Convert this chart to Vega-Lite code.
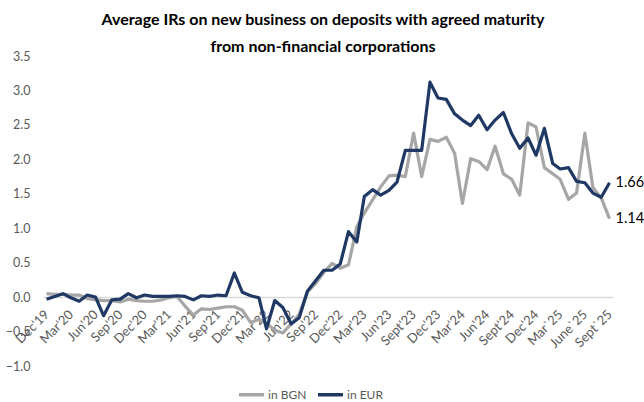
{
  "$schema": "https://vega.github.io/schema/vega-lite/v6.json",
  "autosize": "none",
  "width": 570,
  "height": 310,
  "padding": {"left": 43, "top": 56, "right": 31, "bottom": 36},
  "background": "white",
  "config": {"view": {"stroke": null}},
  "title": {
    "text": ["Average IRs on new business on deposits with agreed maturity", "from non-financial corporations"],
    "font": "Lato",
    "fontSize": 16,
    "fontWeight": "bold",
    "color": "#000000",
    "anchor": "middle",
    "frame": "group",
    "dx": -5,
    "lineHeight": 27,
    "offset": -5
  },
  "data": {
    "values": [
      {"date": "2019-12-01", "in BGN": 0.05, "in EUR": -0.03},
      {"date": "2020-01-01", "in BGN": 0.04, "in EUR": 0.01},
      {"date": "2020-02-01", "in BGN": 0.04, "in EUR": 0.05},
      {"date": "2020-03-01", "in BGN": 0.03, "in EUR": -0.01},
      {"date": "2020-04-01", "in BGN": 0.03, "in EUR": -0.06},
      {"date": "2020-05-01", "in BGN": -0.02, "in EUR": 0.03},
      {"date": "2020-06-01", "in BGN": -0.04, "in EUR": 0.0},
      {"date": "2020-07-01", "in BGN": -0.05, "in EUR": -0.27},
      {"date": "2020-08-01", "in BGN": -0.05, "in EUR": -0.04},
      {"date": "2020-09-01", "in BGN": -0.07, "in EUR": -0.03},
      {"date": "2020-10-01", "in BGN": -0.03, "in EUR": 0.05},
      {"date": "2020-11-01", "in BGN": -0.05, "in EUR": -0.01},
      {"date": "2020-12-01", "in BGN": -0.06, "in EUR": 0.03},
      {"date": "2021-01-01", "in BGN": -0.06, "in EUR": 0.01},
      {"date": "2021-02-01", "in BGN": -0.04, "in EUR": 0.01},
      {"date": "2021-03-01", "in BGN": -0.01, "in EUR": 0.01},
      {"date": "2021-04-01", "in BGN": 0.01, "in EUR": 0.02},
      {"date": "2021-05-01", "in BGN": -0.13, "in EUR": 0.01},
      {"date": "2021-06-01", "in BGN": -0.26, "in EUR": -0.04},
      {"date": "2021-07-01", "in BGN": -0.17, "in EUR": 0.02},
      {"date": "2021-08-01", "in BGN": -0.18, "in EUR": 0.01},
      {"date": "2021-09-01", "in BGN": -0.16, "in EUR": 0.03},
      {"date": "2021-10-01", "in BGN": -0.14, "in EUR": 0.02},
      {"date": "2021-11-01", "in BGN": -0.14, "in EUR": 0.35},
      {"date": "2021-12-01", "in BGN": -0.19, "in EUR": 0.07},
      {"date": "2022-01-01", "in BGN": -0.37, "in EUR": 0.02},
      {"date": "2022-02-01", "in BGN": -0.32, "in EUR": -0.01},
      {"date": "2022-03-01", "in BGN": -0.38, "in EUR": -0.46},
      {"date": "2022-04-01", "in BGN": -0.48, "in EUR": -0.05},
      {"date": "2022-05-01", "in BGN": -0.52, "in EUR": -0.15},
      {"date": "2022-06-01", "in BGN": -0.39, "in EUR": -0.39},
      {"date": "2022-07-01", "in BGN": -0.25, "in EUR": -0.30},
      {"date": "2022-08-01", "in BGN": 0.08, "in EUR": 0.09},
      {"date": "2022-09-01", "in BGN": 0.20, "in EUR": 0.24},
      {"date": "2022-10-01", "in BGN": 0.36, "in EUR": 0.39},
      {"date": "2022-11-01", "in BGN": 0.49, "in EUR": 0.39},
      {"date": "2022-12-01", "in BGN": 0.42, "in EUR": 0.48},
      {"date": "2023-01-01", "in BGN": 0.47, "in EUR": 0.95},
      {"date": "2023-02-01", "in BGN": 1.02, "in EUR": 0.80},
      {"date": "2023-03-01", "in BGN": 1.22, "in EUR": 1.46},
      {"date": "2023-04-01", "in BGN": 1.41, "in EUR": 1.56},
      {"date": "2023-05-01", "in BGN": 1.60, "in EUR": 1.48},
      {"date": "2023-06-01", "in BGN": 1.76, "in EUR": 1.55},
      {"date": "2023-07-01", "in BGN": 1.77, "in EUR": 1.67},
      {"date": "2023-08-01", "in BGN": 1.75, "in EUR": 2.13},
      {"date": "2023-09-01", "in BGN": 2.38, "in EUR": 2.13},
      {"date": "2023-10-01", "in BGN": 1.75, "in EUR": 2.13},
      {"date": "2023-11-01", "in BGN": 2.29, "in EUR": 3.12},
      {"date": "2023-12-01", "in BGN": 2.26, "in EUR": 2.89},
      {"date": "2024-01-01", "in BGN": 2.32, "in EUR": 2.87},
      {"date": "2024-02-01", "in BGN": 2.09, "in EUR": 2.66},
      {"date": "2024-03-01", "in BGN": 1.36, "in EUR": 2.57},
      {"date": "2024-04-01", "in BGN": 2.01, "in EUR": 2.49},
      {"date": "2024-05-01", "in BGN": 1.97, "in EUR": 2.64},
      {"date": "2024-06-01", "in BGN": 1.85, "in EUR": 2.43},
      {"date": "2024-07-01", "in BGN": 2.19, "in EUR": 2.57},
      {"date": "2024-08-01", "in BGN": 1.79, "in EUR": 2.68},
      {"date": "2024-09-01", "in BGN": 1.71, "in EUR": 2.37},
      {"date": "2024-10-01", "in BGN": 1.48, "in EUR": 2.16},
      {"date": "2024-11-01", "in BGN": 2.53, "in EUR": 2.31},
      {"date": "2024-12-01", "in BGN": 2.47, "in EUR": 2.06},
      {"date": "2025-01-01", "in BGN": 1.88, "in EUR": 2.45},
      {"date": "2025-02-01", "in BGN": 1.79, "in EUR": 1.94},
      {"date": "2025-03-01", "in BGN": 1.71, "in EUR": 1.86},
      {"date": "2025-04-01", "in BGN": 1.42, "in EUR": 1.88},
      {"date": "2025-05-01", "in BGN": 1.51, "in EUR": 1.68},
      {"date": "2025-06-01", "in BGN": 2.38, "in EUR": 1.66},
      {"date": "2025-07-01", "in BGN": 1.59, "in EUR": 1.51},
      {"date": "2025-08-01", "in BGN": 1.44, "in EUR": 1.45},
      {"date": "2025-09-01", "in BGN": 1.14, "in EUR": 1.66}
    ]
  },
  "transform": [
    {"fold": ["in BGN", "in EUR"], "as": ["series", "value"]}
  ],
  "encoding": {
    "x": {
      "field": "date",
      "type": "temporal",
      "scale": {
        "type": "utc",
        "nice": false,
        "domain": [
          {"year": 2019, "month": 11, "date": 18, "utc": true},
          {"year": 2025, "month": 9, "date": 14, "utc": true}
        ]
      },
      "axis": {
        "title": null,
        "offset": -68.9,
        "domainColor": "#d9d9d9",
        "domainWidth": 1.5,
        "ticks": false,
        "grid": false,
        "labelAngle": -45,
        "labelAlign": "right",
        "labelBaseline": "middle",
        "labelPadding": 15,
        "labelFont": "Lato",
        "labelFontSize": 13,
        "labelColor": "#595959",
        "labelOverlap": false,
        "labelBound": false,
        "labelFlush": false,
        "values": [
          {"year": 2019, "month": 12, "date": 1, "utc": true},
          {"year": 2020, "month": 3, "date": 1, "utc": true},
          {"year": 2020, "month": 6, "date": 1, "utc": true},
          {"year": 2020, "month": 9, "date": 1, "utc": true},
          {"year": 2020, "month": 12, "date": 1, "utc": true},
          {"year": 2021, "month": 3, "date": 1, "utc": true},
          {"year": 2021, "month": 6, "date": 1, "utc": true},
          {"year": 2021, "month": 9, "date": 1, "utc": true},
          {"year": 2021, "month": 12, "date": 1, "utc": true},
          {"year": 2022, "month": 3, "date": 1, "utc": true},
          {"year": 2022, "month": 6, "date": 1, "utc": true},
          {"year": 2022, "month": 9, "date": 1, "utc": true},
          {"year": 2022, "month": 12, "date": 1, "utc": true},
          {"year": 2023, "month": 3, "date": 1, "utc": true},
          {"year": 2023, "month": 6, "date": 1, "utc": true},
          {"year": 2023, "month": 9, "date": 1, "utc": true},
          {"year": 2023, "month": 12, "date": 1, "utc": true},
          {"year": 2024, "month": 3, "date": 1, "utc": true},
          {"year": 2024, "month": 6, "date": 1, "utc": true},
          {"year": 2024, "month": 9, "date": 1, "utc": true},
          {"year": 2024, "month": 12, "date": 1, "utc": true},
          {"year": 2025, "month": 3, "date": 1, "utc": true},
          {"year": 2025, "month": 6, "date": 1, "utc": true},
          {"year": 2025, "month": 9, "date": 1, "utc": true}
        ],
        "labelExpr": "(utcmonth(datum.value)==8 && utcyear(datum.value)>=2023 ? 'Sept' : (utcmonth(datum.value)==5 && utcyear(datum.value)==2025 ? 'June' : utcFormat(datum.value,'%b'))) + (utcyear(datum.value)==2025 && utcmonth(datum.value)>=2 ? '`' : \"'\") + utcFormat(datum.value,'%y')"
      }
    },
    "y": {
      "field": "value",
      "type": "quantitative",
      "scale": {"domain": [-1, 3.5], "nice": false, "zero": false},
      "axis": {
        "title": null,
        "domain": false,
        "ticks": false,
        "grid": false,
        "values": [-1, -0.5, 0, 0.5, 1, 1.5, 2, 2.5, 3, 3.5],
        "format": ".1f",
        "labelFont": "Lato",
        "labelFontSize": 12.5,
        "labelColor": "#595959",
        "labelPadding": 13
      }
    }
  },
  "layer": [
    {
      "mark": {"type": "line", "strokeWidth": 3.2, "strokeJoin": "round"},
      "encoding": {
        "color": {
          "field": "series",
          "type": "nominal",
          "scale": {"domain": ["in BGN", "in EUR"], "range": ["#a6a6a6", "#1f3864"]},
          "legend": {
            "title": null,
            "orient": "none",
            "legendX": 194,
            "legendY": 324,
            "direction": "horizontal",
            "symbolType": "stroke",
            "symbolStrokeWidth": 3.5,
            "symbolSize": 625,
            "labelFont": "Lato",
            "labelFontSize": 12,
            "labelColor": "#595959",
            "columnPadding": 4,
            "labelOffset": 2
          }
        }
      }
    },
    {
      "transform": [{"filter": "utcyear(datum.date)==2025 && utcmonth(datum.date)==8"}],
      "mark": {"type": "text", "align": "left", "baseline": "middle", "dx": 6, "font": "Lato", "fontSize": 14.5, "color": "#000000"},
      "encoding": {
        "text": {"field": "value", "type": "quantitative", "format": ".2f"}
      }
    }
  ]
}
